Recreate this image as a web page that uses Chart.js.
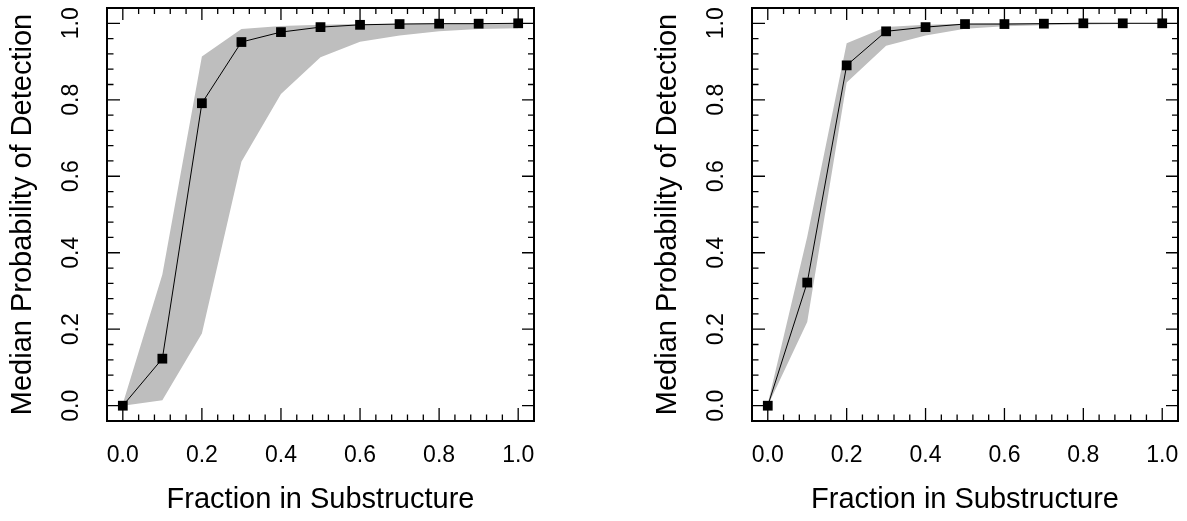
<!DOCTYPE html>
<html><head><meta charset="utf-8">
<script src="https://cdn.jsdelivr.net/npm/chart.js@4.4.1/dist/chart.umd.min.js"></script>
<style>
html,body{margin:0;padding:0;background:#fff;}
body{width:1187px;height:521px;position:relative;overflow:hidden;}
canvas{position:absolute;top:0;}
</style></head><body>
<canvas id="c1" width="593" height="521" style="left:0px"></canvas>
<canvas id="c2" width="542" height="521" style="left:645px"></canvas>
<script>
// ---- data ----
const fraction = [0.0, 0.1, 0.2, 0.3, 0.4, 0.5, 0.6, 0.7, 0.8, 0.9, 1.0];
const tickValues = [0.0, 0.2, 0.4, 0.6, 0.8, 1.0];

const leftMedian = [0.000, 0.123, 0.791, 0.951, 0.977, 0.990, 0.996, 0.998, 0.999, 0.999, 1.000];
const leftLower  = [0.000, 0.014, 0.189, 0.638, 0.815, 0.911, 0.952, 0.968, 0.979, 0.985, 0.987];
const leftUpper  = [0.005, 0.343, 0.913, 0.985, 0.993, 0.996, 0.998, 0.999, 1.000, 1.000, 1.000];

const rightMedian = [0.000, 0.322, 0.890, 0.979, 0.990, 0.998, 0.998, 0.999, 1.000, 1.000, 1.000];
const rightLower  = [0.000, 0.219, 0.845, 0.941, 0.968, 0.986, 0.992, 0.995, 0.997, 0.998, 0.999];
const rightUpper  = [0.005, 0.442, 0.948, 0.990, 0.996, 0.999, 1.000, 1.000, 1.000, 1.000, 1.000];

const xTitle = 'Fraction in Substructure';
const yTitle = 'Median Probability of Detection';

const FONT = "'Liberation Sans', Arial, Helvetica, sans-serif";

const boxTicks = {
  id: 'boxTicks',
  afterDatasetsDraw(chart) {
    const {ctx, chartArea: a, scales: {x, y}} = chart;
    ctx.save();
    ctx.strokeStyle = '#000';
    ctx.lineWidth = 1.3;
    ctx.beginPath();
    for (let i = 0; i <= 25; i++) {
      const v = i / 25;
      const major = i % 5 === 0;
      const lenB = major ? 13 : 6.5;
      const lenT = major ? 12 : 6;
      const px = x.getPixelForValue(v);
      ctx.moveTo(px, a.bottom); ctx.lineTo(px, a.bottom - lenB);
      ctx.moveTo(px, a.top); ctx.lineTo(px, a.top + lenT);
      const py = y.getPixelForValue(v);
      ctx.moveTo(a.left, py); ctx.lineTo(a.left + lenB, py);
      ctx.moveTo(a.right, py); ctx.lineTo(a.right - lenT, py);
    }
    ctx.stroke();
    ctx.lineWidth = 2;
    ctx.strokeRect(a.left, a.top, a.right - a.left, a.bottom - a.top);
    ctx.restore();
  }
};

function pts(ys) { return fraction.map((f, i) => ({x: f, y: ys[i]})); }

function makeChart(id, median, lower, upper, canvasWidth, boxRight) {
  return new Chart(document.getElementById(id), {
    type: 'line',
    data: {
      datasets: [
        {data: pts(median), borderColor: '#000', borderWidth: 1, pointStyle: 'rect',
         pointRadius: 6.9, pointBackgroundColor: '#000', pointBorderWidth: 0, tension: 0, fill: false},
        {data: pts(lower), borderWidth: 0, borderColor: 'rgba(0,0,0,0)', pointRadius: 0, fill: false, tension: 0},
        {data: pts(upper), borderWidth: 0, borderColor: 'rgba(0,0,0,0)', pointRadius: 0, backgroundColor: '#BEBEBE', fill: '-1', tension: 0}
      ]
    },
    options: {
      responsive: false, animation: false, devicePixelRatio: 1,
      layout: {padding: {left: 0, top: 8, right: canvasWidth - boxRight, bottom: 0}},
      plugins: {legend: {display: false}, tooltip: {enabled: false}},
      scales: {
        x: {
          type: 'linear', min: -0.04, max: 1.04,
          afterBuildTicks(s) { s.ticks = tickValues.map(v => ({value: v})); },
          afterFit(s) { s.height = 100; s.paddingLeft = 0; s.paddingRight = 0; },
          grid: {display: false, drawTicks: false}, border: {display: false},
          ticks: {font: {family: FONT, size: 23}, color: '#000', padding: 20.5, maxRotation: 0, minRotation: 0,
                  autoSkip: false, callback: v => Number(v).toFixed(1)},
          title: {display: true, text: xTitle, font: {family: FONT, size: 29}, color: '#000', padding: {top: 0, bottom: 4}}
        },
        y: {
          type: 'linear', min: -0.04, max: 1.04,
          afterBuildTicks(s) { s.ticks = tickValues.map(v => ({value: v})); },
          afterFit(s) { s.width = 107; s.paddingTop = 0; s.paddingBottom = 0; },
          grid: {display: false, drawTicks: false}, border: {display: false},
          ticks: {font: {family: FONT, size: 23}, color: '#000', padding: 19, minRotation: 90, maxRotation: 90,
                  crossAlign: 'center', autoSkip: false, callback: v => Number(v).toFixed(1)},
          title: {display: true, text: yTitle, font: {family: FONT, size: 29}, color: '#000', padding: {top: 6, bottom: 0}}
        }
      }
    },
    plugins: [boxTicks]
  });
}

makeChart('c1', leftMedian, leftLower, leftUpper, 593, 534);
makeChart('c2', rightMedian, rightLower, rightUpper, 542, 533);
</script>
</body></html>
